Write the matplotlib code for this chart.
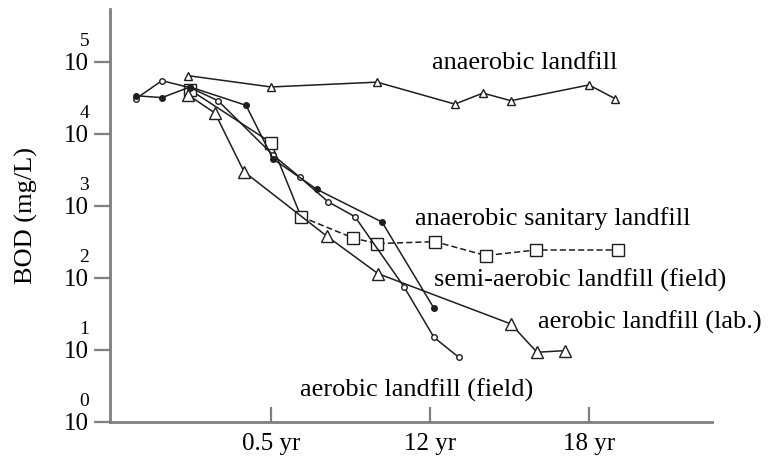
import matplotlib.pyplot as plt
from matplotlib.ticker import FixedLocator, NullLocator
import matplotlib.transforms as mtrans

plt.rcParams['font.family'] = ['Liberation Serif', 'DejaVu Serif']

# x positions are in tick units: 1 -> 0.5 yr, 2 -> 12 yr, 3 -> 18 yr
tick_pos = [1, 2, 3]
tick_labels = ['0.5 yr', '12 yr', '18 yr']

# BOD (mg/L)
anaer_x = [0.478, 1.0, 1.667, 2.157, 2.333, 2.509, 3.0, 3.164]
anaer_y = [64600, 45000, 52500, 26000, 37000, 29000, 48000, 31000]

sanit_x = [0.491, 1.0, 1.189, 1.516, 1.667, 2.031, 2.352, 2.667, 3.182]
sanit_y = [41000, 7600, 710, 360, 300, 320, 205, 245, 245]

semi_x = [0.151, 0.314, 0.491, 0.843, 1.013, 1.289, 1.698, 2.025]
semi_y = [34000, 32000, 45000, 25000, 4500, 1700, 600, 38]

lab_x = [0.478, 0.648, 0.830, 1.352, 1.673, 2.509, 2.673, 2.849]
lab_y = [35000, 19500, 3000, 380, 115, 23, 9.3, 9.8]

field_x = [0.151, 0.314, 0.491, 0.667, 1.013, 1.182, 1.358, 1.528, 1.836, 2.025, 2.182]
field_y = [31000, 55000, 44000, 29000, 5100, 2500, 1150, 710, 76, 15, 7.9]

labels = ['anaerobic landfill', 'anaerobic sanitary landfill',
          'semi-aerobic landfill (field)', 'aerobic landfill (lab.)',
          'aerobic landfill (field)']
label_x = [2.013, 1.906, 2.025, 2.679, 1.182]
label_y = [98000, 660, 93, 24.5, 2.8]

dec_vals = [1, 10, 100, 1000, 10000, 100000]
dec_exp = ['0', '1', '2', '3', '4', '5']

ink = '#1e1e1e'
axcol = '#7f7f7f'

fig = plt.figure(figsize=(7.71, 4.66), dpi=100)
ax = fig.add_axes([110/771, 44/466, 602/771, 413/466])
ax.set_yscale('log')
ax.set_xlim(-0.0126, 3.774)
ax.set_ylim(1, 10**5.736)

lw = 1.1
ax.plot(anaer_x, anaer_y, color=ink, lw=lw, marker='^', ms=6, mfc='white', mec=ink, mew=1)
ax.plot(sanit_x[:3], sanit_y[:3], color=ink, lw=lw)
ax.plot(sanit_x[2:], sanit_y[2:], color=ink, lw=lw, dashes=[4, 2])
ax.plot(sanit_x, sanit_y, ls='none', marker='s', ms=8.5, mfc='white', mec=ink, mew=1)
ax.plot(lab_x, lab_y, color=ink, lw=lw, marker='^', ms=9, mfc='white', mec=ink, mew=1)
ax.plot(field_x, field_y, color=ink, lw=lw, marker='o', ms=4, mfc='white', mec=ink, mew=1)
ax.plot(semi_x, semi_y, color=ink, lw=lw, marker='o', ms=4, mfc=ink, mec=ink, mew=1)

for t, x, y in zip(labels, label_x, label_y):
    ax.text(x, y, t, fontsize=19, va='center', ha='left', color='black')

for s in ['top', 'right']:
    ax.spines[s].set_visible(False)
for s in ['left', 'bottom']:
    ax.spines[s].set_color(axcol)
    ax.spines[s].set_linewidth(2)

ax.xaxis.set_major_locator(FixedLocator(tick_pos))
ax.set_xticklabels(tick_labels, fontsize=18)
ax.tick_params(axis='x', direction='in', length=11, width=1.6, color=axcol, pad=8)

ax.yaxis.set_major_locator(FixedLocator(dec_vals))
ax.yaxis.set_minor_locator(NullLocator())
ax.set_yticklabels(['10'] * len(dec_vals), fontsize=18)
ax.tick_params(axis='y', direction='out', length=11.5, width=1.6, color=axcol, pad=4)

# exponents placed over the "10"
for v, e in zip(dec_vals, dec_exp):
    tr = mtrans.offset_copy(ax.get_yaxis_transform(), fig=fig, x=-18.5, y=15, units='points')
    ax.text(0, v, e, transform=tr, fontsize=14, ha='center', va='center', clip_on=False)

ax.set_ylabel('BOD (mg/L)', fontsize=19, labelpad=18)

fig.savefig('out.png', dpi=100)
